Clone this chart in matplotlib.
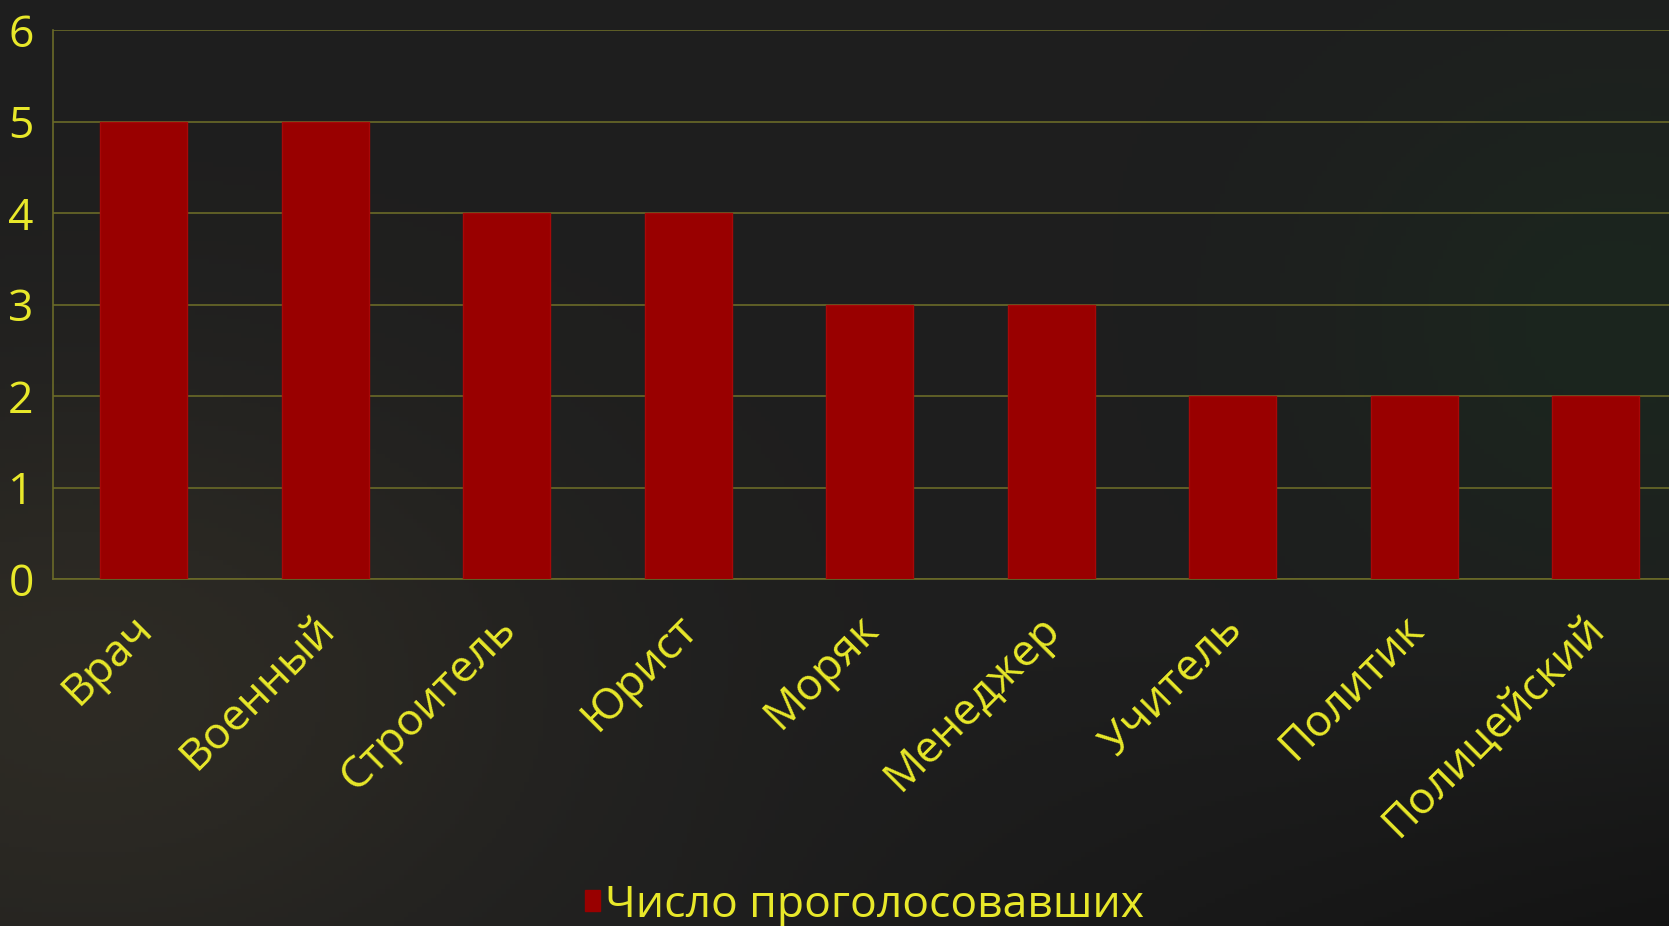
import numpy as np
import matplotlib
matplotlib.use("Agg")
import matplotlib.pyplot as plt
import matplotlib.transforms as mtransforms
from matplotlib.patches import Patch

# professions and number of votes
professions = ["Врач", "Военный", "Строитель", "Юрист", "Моряк",
               "Менеджер", "Учитель", "Политик", "Полицейский"]
votes = [5, 5, 4, 4, 3, 3, 2, 2, 2]
series_name = "Число проголосовавших"

yellow = "#e8e82a"
bar_red = "#990000"
grid_col = "#6a6a28"

plt.rcParams['font.family'] = ['Open Sans', 'DejaVu Sans']

fig = plt.figure(figsize=(16.69, 9.26), dpi=100)

# dark background with a warm glow bottom-left and a green tint right
bg = fig.add_axes([0, 0, 1, 1], zorder=-10)
h, w = 200, 360
yy, xx = np.mgrid[0:1:h * 1j, 0:1:w * 1j]
base = np.array([0.118, 0.118, 0.118])
img = np.ones((h, w, 3)) * base
warm = np.exp(-((xx - 0.05) ** 2 / 0.08 + (yy - 0.75) ** 2 / 0.12))
green = np.exp(-((xx - 0.97) ** 2 / 0.03 + (yy - 0.35) ** 2 / 0.08))
dark = np.clip((yy - 0.7) / 0.3, 0, 1) * np.clip((xx - 0.4) / 0.6, 0, 1)
img += warm[..., None] * np.array([0.06, 0.05, 0.025])
img += green[..., None] * np.array([-0.01, 0.03, 0.0])
img -= dark[..., None] * np.array([0.04, 0.04, 0.04])
bg.imshow(np.clip(img, 0, 1), aspect="auto", extent=[0, 1, 0, 1])
bg.axis("off")

ax = fig.add_axes([0.0318, 0.3747, 0.9787, 0.5929])
ax.set_facecolor("none")
x = np.arange(len(professions))
ax.bar(x, votes, width=0.48, color=bar_red, edgecolor="#a80808",
       linewidth=1, zorder=3)

ax.set_xlim(-0.5, len(professions) - 0.5)
ax.set_ylim(0, 6)
ax.set_yticks(range(0, 7))
ax.yaxis.grid(True, color=grid_col, linewidth=1.2, zorder=0)
for s in ["top", "right"]:
    ax.spines[s].set_visible(False)
ax.spines["left"].set_color(grid_col)
ax.spines["bottom"].set_color(grid_col)
ax.spines["left"].set_linewidth(1.2)
ax.spines["bottom"].set_linewidth(1.2)

ax.set_xticks(x)
ax.set_xticklabels(professions, rotation=45, ha="right", va="top",
                   rotation_mode="anchor", fontsize=32, color=yellow)
ax.tick_params(axis="x", length=0, pad=20)
ax.tick_params(axis="y", length=0, pad=14, labelsize=32, labelcolor=yellow)

# nudge the category labels a little to the left
shift = mtransforms.ScaledTranslation(-0.13, 0, fig.dpi_scale_trans)
for lab in ax.get_xticklabels():
    lab.set_transform(lab.get_transform() + shift)

fig.legend(handles=[Patch(color=bar_red)], labels=[series_name],
           loc="lower center", bbox_to_anchor=(0.518, -0.045), frameon=False,
           fontsize=32, labelcolor=yellow, handlelength=0.33, handleheight=0.33,
           handletextpad=0.12)

fig.savefig("out.png", dpi=100, facecolor="#1e1e1e")
